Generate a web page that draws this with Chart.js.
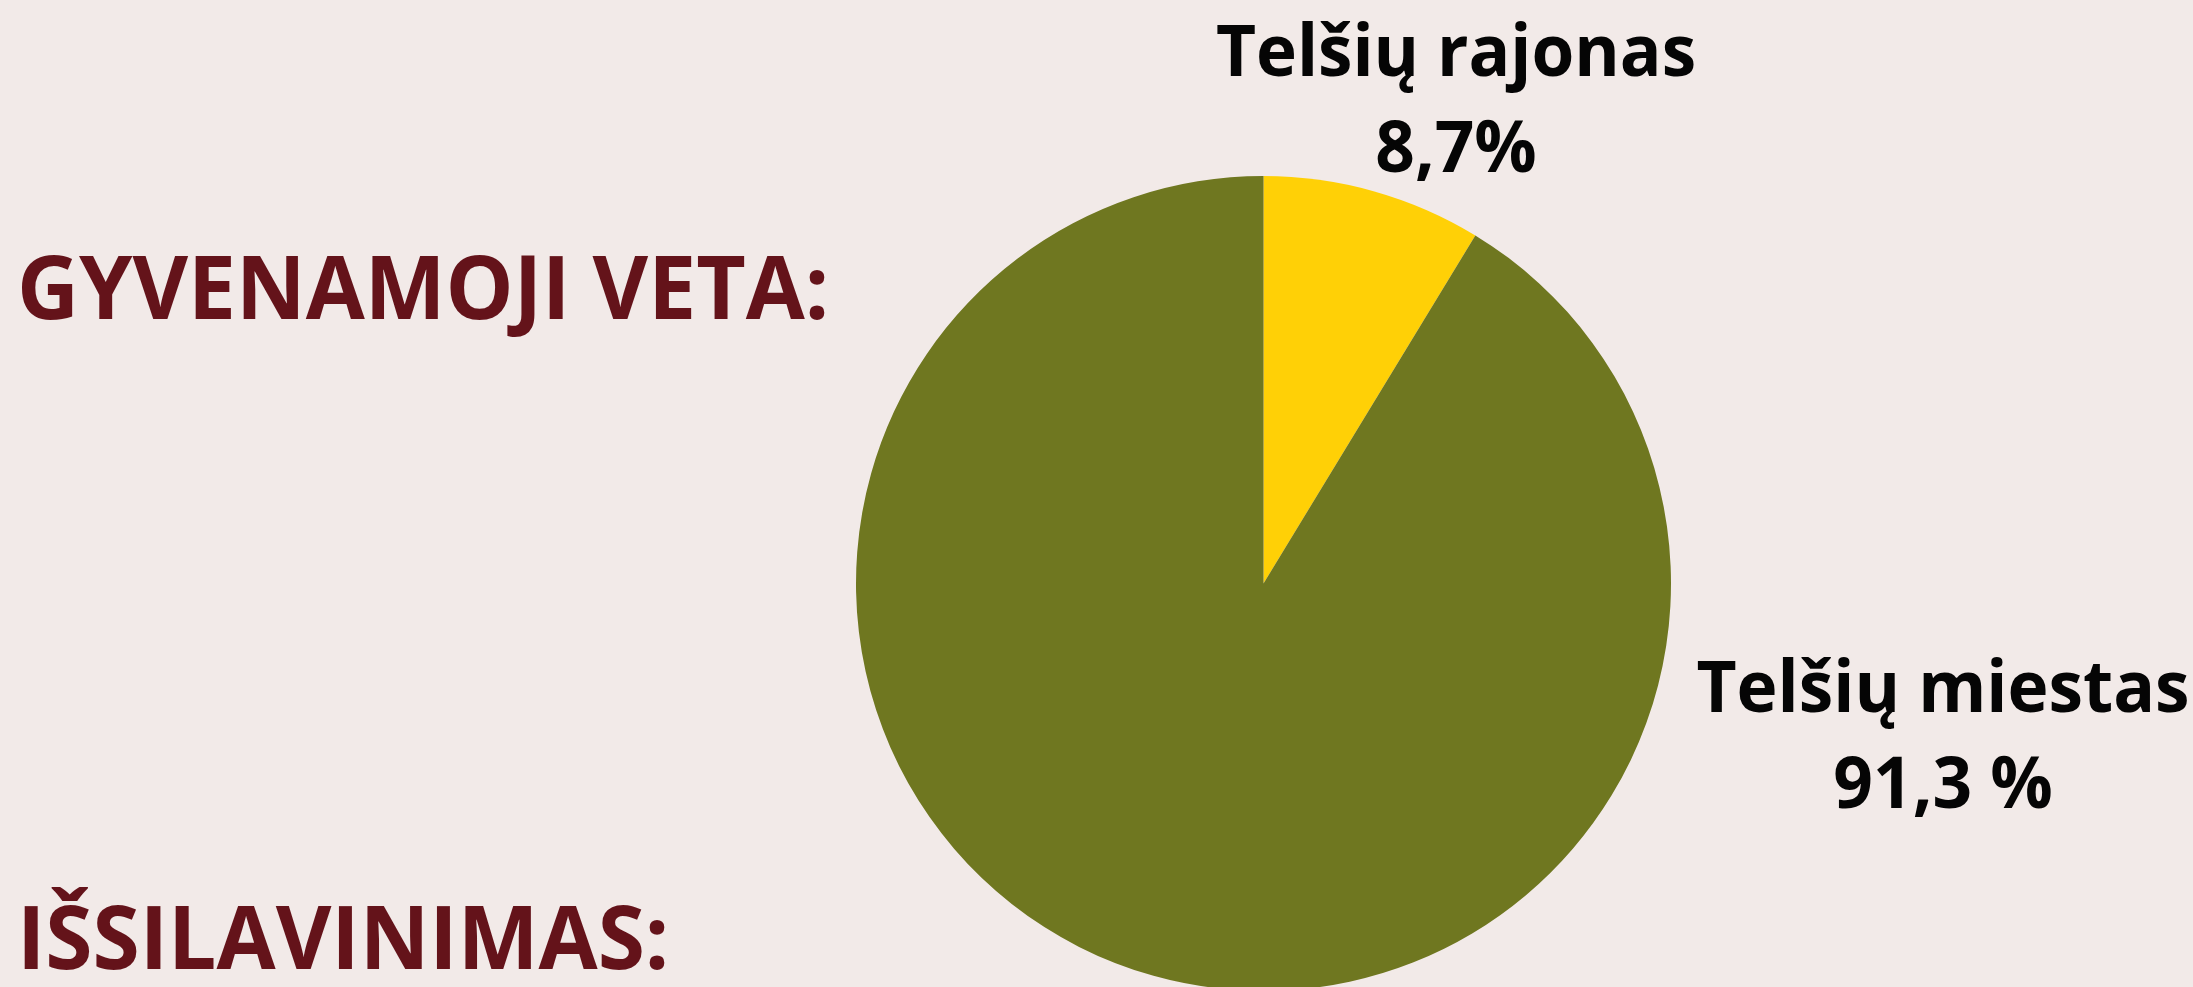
<!DOCTYPE html>
<html lang="lt">

<head>
    <meta charset="UTF-8">
    <title>Gyvenamoji vieta</title>
    <script src="https://cdn.jsdelivr.net/npm/chart.js"></script>
    <style>
        body {
            margin: 0;
            width: 2193px;
            height: 987px;
            overflow: hidden;
            background: #f2eae8;
            font-family: "Open Sans", sans-serif;
        }

        .heading {
            position: absolute;
            left: 17px;
            font-size: 87px;
            font-weight: 700;
            line-height: 87px;
            color: #64131a;
            white-space: nowrap;
            transform-origin: left top;
        }

        #wrap {
            position: absolute;
            left: 0;
            top: 0;
        }
    </style>
</head>

<body>
    <span class="heading" id="h1" style="top: 242px;">GYVENAMOJI VETA:</span>
    <span class="heading" id="h2" style="top: 892px;">IŠSILAVINIMAS:</span>
    <div id="wrap">
        <canvas id="pieChart" width="2193" height="1000"></canvas>
    </div>

    <script>
        // chart data
        const places = ['Telšių rajonas', 'Telšių miestas'];
        const shares = [8.7, 91.3];
        const shareLabels = ['8,7%', '91,3 %'];
        const colors = ['#ffd006', '#6f7720'];

        // fit headings to the width they have in the original
        function fitWidth(id, width) {
            const el = document.getElementById(id);
            el.style.transform = 'scaleX(' + (width / el.offsetWidth) + ')';
        }
        fitWidth('h1', 812);
        fitWidth('h2', 652);

        // where each slice's text goes (center x, baseline of name, ink width of name)
        const labelPos = [
            { x: 1456, y: 76, w: 477 },
            { x: 1943, y: 712, w: 490 }
        ];

        const sliceLabels = {
            id: 'sliceLabels',
            afterDraw(chart) {
                const ctx = chart.ctx;
                ctx.save();
                ctx.fillStyle = '#050505';
                ctx.textAlign = 'center';
                ctx.textBaseline = 'alphabetic';
                ctx.font = '700 71px "Open Sans"';
                places.forEach((name, i) => {
                    const p = labelPos[i];
                    const m = ctx.measureText(name);
                    const sx = p.w / (m.actualBoundingBoxLeft + m.actualBoundingBoxRight);
                    ctx.save();
                    ctx.translate(p.x, 0);
                    ctx.scale(sx, 1);
                    ctx.fillText(name, 0, p.y);
                    ctx.fillText(shareLabels[i], 0, p.y + 96);
                    ctx.restore();
                });
                ctx.restore();
            }
        };

        const ctx = document.getElementById('pieChart').getContext('2d');
        new Chart(ctx, {
            type: 'pie',
            data: {
                labels: places,
                datasets: [{
                    data: shares,
                    backgroundColor: colors,
                    borderWidth: 0
                }]
            },
            options: {
                responsive: false,
                animation: false,
                layout: {
                    padding: { left: 856, right: 522, top: 176, bottom: 9 }
                },
                plugins: {
                    legend: { display: false },
                    tooltip: { enabled: false }
                }
            },
            plugins: [sliceLabels]
        });
    </script>
</body>

</html>
